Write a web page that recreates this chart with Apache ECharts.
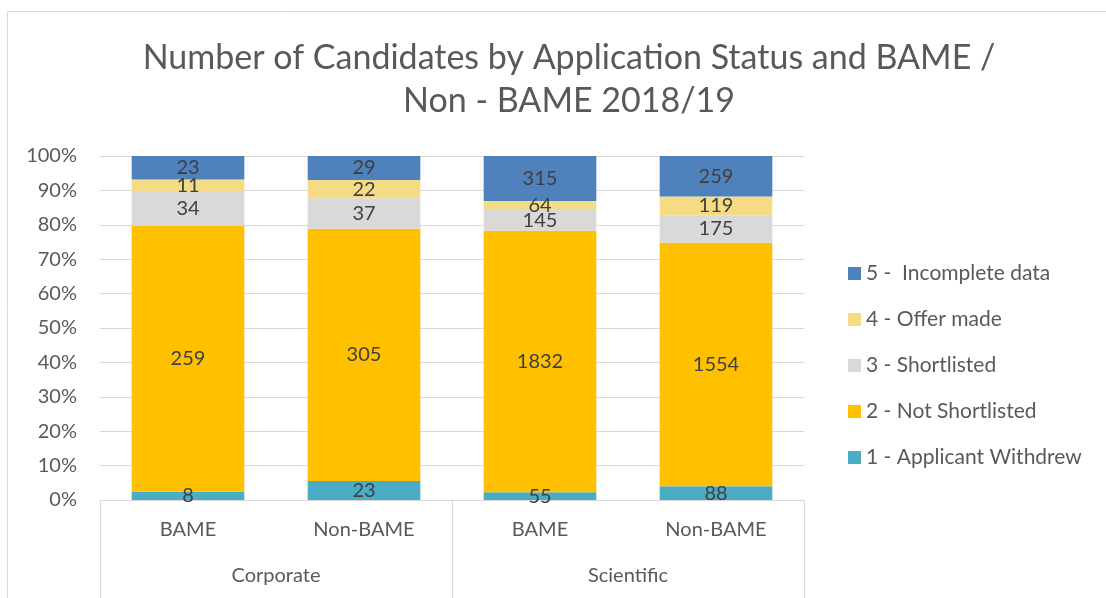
<!DOCTYPE html>
<html>
<head>
<meta charset="utf-8">
<script src="https://cdn.jsdelivr.net/npm/echarts@6/dist/echarts.min.js"></script>
<style>
  html, body { margin: 0; padding: 0; background: #fff; }
  #chart { width: 1106px; height: 598px; }
</style>
</head>
<body>
<div id="chart"></div>
<script>
// categories
var subCats = ['BAME', 'Non-BAME', 'BAME', 'Non-BAME'];
var groupCats = ['Corporate', 'Scientific'];
var seriesNames = ['1 - Applicant Withdrew', '2 - Not Shortlisted', '3 - Shortlisted', '4 - Offer made', '5 -  Incomplete data'];
var yTicks = ['0%', '10%', '20%', '30%', '40%', '50%', '60%', '70%', '80%', '90%', '100%'];
// raw counts per status (Corp BAME, Corp Non-BAME, Sci BAME, Sci Non-BAME)
var withdrew = [8, 23, 55, 88];
var notShortlisted = [259, 305, 1832, 1554];
var shortlisted = [34, 37, 145, 175];
var offerMade = [11, 22, 64, 119];
var incomplete = [23, 29, 315, 259];

var colors = ['#4BACC6', '#FFC000', '#D9D9D9', '#F5DC84', '#4F81BD'];
var raw = [withdrew, notShortlisted, shortlisted, offerMade, incomplete];

// totals for 100% stacking
var totals = subCats.map(function (c, i) {
    var s = 0;
    raw.forEach(function (arr) { s += arr[i]; });
    return s;
});

var font = 'Lato, "Open Sans", sans-serif';
var txt = '#595959';

var series = raw.map(function (arr, k) {
    return {
        name: seriesNames[k],
        type: 'bar',
        stack: 'all',
        barWidth: '64%',
        xAxisIndex: 0,
        itemStyle: { color: colors[k] },
        label: {
            show: true,
            position: 'inside',
            color: '#404040',
            fontSize: 20,
            fontFamily: font,
            formatter: function (p) { return arr[p.dataIndex]; }
        },
        data: arr.map(function (v, i) { return v / totals[i] * 100; })
    };
});

var chart = echarts.init(document.getElementById('chart'));
chart.setOption({
    animation: false,
    color: colors,
    title: {
        text: 'Number of Candidates by Application Status and BAME /\nNon - BAME 2018/19',
        left: 564,
        top: 32,
        textAlign: 'center',
        textStyle: { fontSize: 34, fontWeight: 'normal', color: txt, fontFamily: font, lineHeight: 43 }
    },
    graphic: [{
        type: 'rect',
        shape: { x: 7.5, y: 11.5, width: 1200, height: 700 },
        style: { fill: 'none', stroke: '#D9D9D9', lineWidth: 1 },
        silent: true
    }],
    legend: {
        orient: 'vertical',
        left: 843,
        top: 258,
        itemWidth: 13,
        itemHeight: 13,
        itemGap: 25,
        icon: 'rect',
        data: seriesNames.slice().reverse(),
        textStyle: { fontSize: 21, color: txt, fontFamily: font, lineHeight: 21 }
    },
    grid: { left: 100, right: 302, top: 156, bottom: 98 },
    xAxis: [{
        type: 'category',
        data: subCats,
        position: 'bottom',
        axisLine: { show: false },
        axisTick: { show: false },
        axisLabel: { margin: 20, fontSize: 20, color: txt, fontFamily: font }
    }, {
        type: 'category',
        data: groupCats,
        position: 'bottom',
        axisLine: { show: true, lineStyle: { color: '#D9D9D9', width: 1 } },
        axisTick: { show: true, length: 98, interval: 0, lineStyle: { color: '#D9D9D9', width: 1 } },
        axisLabel: { margin: 66, fontSize: 20, color: txt, fontFamily: font }
    }],
    yAxis: {
        type: 'value',
        min: 0,
        max: 100,
        interval: 10,
        axisLine: { show: false },
        axisTick: { show: false },
        splitLine: { lineStyle: { color: '#D9D9D9', width: 1 } },
        axisLabel: {
            margin: 23,
            fontSize: 20,
            color: txt,
            fontFamily: font,
            formatter: function (v) { return yTicks[Math.round(v / 10)]; }
        }
    },
    series: series
});
</script>
</body>
</html>
